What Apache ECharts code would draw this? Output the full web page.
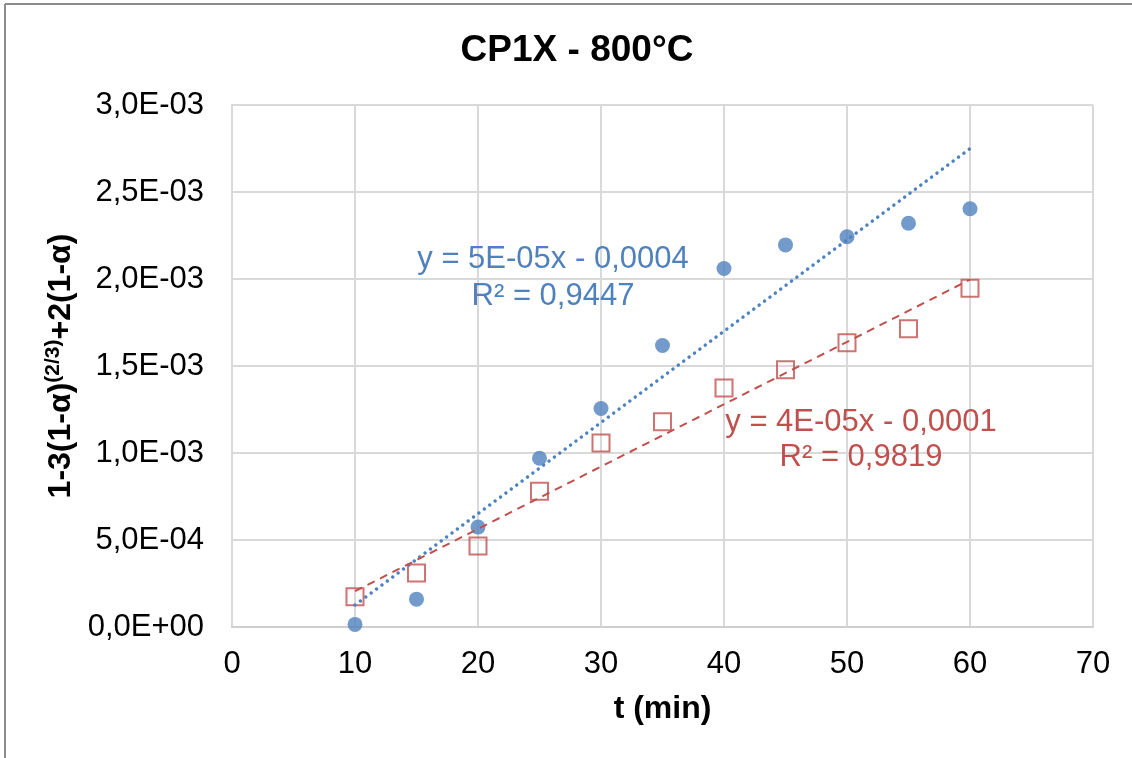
<!DOCTYPE html>
<html>
<head>
<meta charset="utf-8">
<script src="https://cdn.jsdelivr.net/npm/echarts@6/dist/echarts.min.js"></script>
<style>
html,body{margin:0;padding:0;background:#fff;}
#c{width:1132px;height:758px;}
</style>
</head>
<body>
<div id="c"></div>
<script>
// ---- data ----
const tMin = [10, 15, 20, 25, 30, 35, 40, 45, 50, 55, 60];
const seriesA = [0.000015, 0.00016, 0.000574, 0.00097, 0.001256, 0.001618, 0.00206, 0.002196, 0.002243, 0.00232, 0.002404];
const seriesB = [0.000174, 0.00031, 0.000465, 0.00078, 0.001057, 0.00118, 0.001373, 0.001478, 0.001633, 0.001714, 0.001947];
const xTicks = [0, 10, 20, 30, 40, 50, 60, 70];
const yTickLabels = ['0,0E+00', '5,0E-04', '1,0E-03', '1,5E-03', '2,0E-03', '2,5E-03', '3,0E-03'];
const eqA = ['y = 5E-05x - 0,0004', 'R² = 0,9447'];
const eqB = ['y = 4E-05x - 0,0001', 'R² = 0,9819'];
const titleText = 'CP1X - 800°C';

// least-squares trend line over the data range
function fit(xs, ys) {
  const n = xs.length;
  const mx = xs.reduce((a, b) => a + b, 0) / n;
  const my = ys.reduce((a, b) => a + b, 0) / n;
  let sxy = 0, sxx = 0;
  for (let i = 0; i < n; i++) { sxy += (xs[i] - mx) * (ys[i] - my); sxx += (xs[i] - mx) * (xs[i] - mx); }
  const k = sxy / sxx, b = my - k * mx;
  const x0 = Math.min(...xs), x1 = Math.max(...xs);
  return [[x0, k * x0 + b], [x1, k * x1 + b]];
}

const FONT = '"Liberation Sans", Arial, sans-serif';
const BLUE = '#4f81bd';
const RED = '#c0504d';
const GRID = '#d9d9d9';

const chart = echarts.init(document.getElementById('c'), null, {renderer: 'canvas'});
chart.setOption({
  animation: false,
  backgroundColor: '#fff',
  title: {
    text: titleText,
    left: 572, top: 27, textAlign: 'center',
    textStyle: {fontFamily: FONT, fontSize: 37, fontWeight: 'bold', color: '#000'}
  },
  grid: {left: 232, right: 39, top: 105, bottom: 131},
  xAxis: {
    type: 'value', min: 0, max: 70, interval: 10,
    name: 't (min)', nameLocation: 'middle', nameGap: 66,
    nameTextStyle: {fontFamily: FONT, fontSize: 32, fontWeight: 'bold', color: '#000'},
    axisLine: {show: true, lineStyle: {color: '#cfcfcf', width: 2}},
    axisTick: {show: false},
    axisLabel: {fontFamily: FONT, fontSize: 31, color: '#000', margin: 22,
      formatter: v => xTicks.indexOf(v) >= 0 ? String(v) : ''},
    splitLine: {show: true, lineStyle: {color: GRID, width: 2}}
  },
  yAxis: {
    type: 'value', min: 0, max: 0.003, interval: 0.0005,
    name: '{m|1-3(1-α)}{s|(2/3)}{m|+2(1-α)}', nameLocation: 'middle', nameRotate: 90, nameGap: 150,
    nameTextStyle: {
      fontFamily: FONT, fontSize: 32, fontWeight: 'bold', color: '#000',
      rich: {
        m: {fontFamily: FONT, fontSize: 32, fontWeight: 'bold', color: '#000', lineHeight: 36},
        s: {fontFamily: FONT, fontSize: 21, fontWeight: 'bold', color: '#000', verticalAlign: 'top', lineHeight: 36}
      }
    },
    axisLine: {show: true, lineStyle: {color: GRID, width: 2}},
    axisTick: {show: false},
    axisLabel: {fontFamily: FONT, fontSize: 31, color: '#000', margin: 28,
      formatter: v => yTickLabels[Math.round(v / 0.0005)] || ''},
    splitLine: {show: true, lineStyle: {color: GRID, width: 2}}
  },
  series: [
    {
      type: 'scatter', name: 'A', data: tMin.map((t, i) => [t, seriesA[i]]),
      symbol: 'circle', symbolSize: 15, itemStyle: {color: BLUE}, z: 2
    },
    {
      type: 'scatter', name: 'B', data: tMin.map((t, i) => [t, seriesB[i]]),
      symbol: 'rect', symbolSize: 17,
      itemStyle: {color: 'rgba(0,0,0,0)', borderColor: RED, borderWidth: 2}, z: 2
    },
    {
      type: 'line', name: 'trendA', data: fit(tMin, seriesA), showSymbol: false, symbol: 'none',
      lineStyle: {color: BLUE, width: 3.5, type: [0.01, 6.7], cap: 'round'}, z: 3
    },
    {
      type: 'line', name: 'trendB', data: fit(tMin, seriesB), showSymbol: false, symbol: 'none',
      lineStyle: {color: RED, width: 2, type: [8, 6]}, z: 3
    }
  ],
  graphic: [
    {type: 'line', shape: {x1: 5, y1: 4, x2: 1132, y2: 4}, style: {stroke: '#8c8c8c', lineWidth: 2}, silent: true},
    {type: 'line', shape: {x1: 5, y1: 4, x2: 5, y2: 758}, style: {stroke: '#8c8c8c', lineWidth: 2}, silent: true},
    {type: 'text', x: 553, y: 278, z: 10,
      style: {text: eqA.join('\n'), fill: BLUE, font: '31px ' + FONT, textAlign: 'center', textVerticalAlign: 'middle', lineHeight: 37}},
    {type: 'text', x: 861, y: 440, z: 10,
      style: {text: eqB.join('\n'), fill: RED, font: '31px ' + FONT, textAlign: 'center', textVerticalAlign: 'middle', lineHeight: 35}}
  ]
});
</script>
</body>
</html>
